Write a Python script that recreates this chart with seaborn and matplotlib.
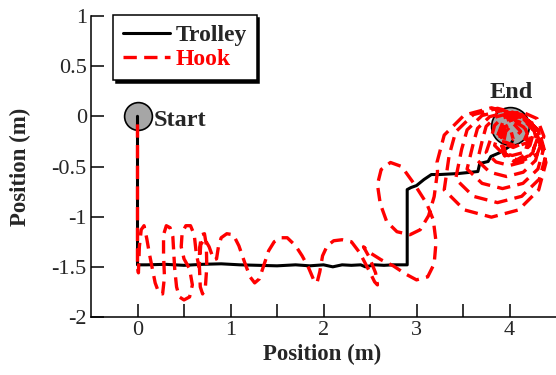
import matplotlib
matplotlib.use("Agg")
import matplotlib.pyplot as plt
import seaborn as sns
import pandas as pd

# ---------------- data ----------------
trolley_x = [0, 0, 0.02, 0.1, 0.3, 0.5, 0.7, 0.9, 1.1, 1.3, 1.5, 1.7, 1.85, 2.0, 2.1, 2.2,
             2.3, 2.4, 2.45, 2.55, 2.65, 2.75, 2.9, 2.9, 2.94, 3.0, 3.08, 3.16, 3.25, 3.45,
             3.66, 3.68, 3.77, 3.8, 3.9, 3.95, 4.0, 4.03]
trolley_y = [0, -1.48, -1.48, -1.48, -1.475, -1.485, -1.475, -1.47, -1.48, -1.485, -1.49, -1.48,
             -1.49, -1.48, -1.50, -1.48, -1.485, -1.48, -1.50, -1.48, -1.485, -1.48, -1.48, -0.73,
             -0.71, -0.69, -0.63, -0.58, -0.58, -0.57, -0.55, -0.47, -0.45, -0.40, -0.36, -0.33,
             -0.30, -0.25]

# hook: descent and first swings
hook_x_start = [0.0, 0.0, 0.0, 0.0, 0.0, 0.01, 0.02, 0.04, 0.07, 0.10, 0.13, 0.16, 0.19, 0.23,
                0.27, 0.29, 0.28, 0.28, 0.31, 0.35, 0.38, 0.39, 0.40, 0.42, 0.45, 0.50, 0.56,
                0.59, 0.56, 0.50, 0.47, 0.48, 0.52, 0.57, 0.61, 0.63, 0.66]
hook_y_start = [-0.08, -0.4, -0.8, -1.2, -1.5, -1.56, -1.30, -1.13, -1.09, -1.22, -1.38, -1.52,
                -1.66, -1.76, -1.77, -1.60, -1.38, -1.18, -1.09, -1.11, -1.20, -1.36, -1.52,
                -1.70, -1.80, -1.83, -1.80, -1.68, -1.52, -1.42, -1.30, -1.16, -1.09, -1.09,
                -1.18, -1.35, -1.50]

# hook: swings along the straight run and the climb
hook_x_mid = [0.67, 0.69, 0.72, 0.74, 0.745, 0.73, 0.70, 0.675, 0.665, 0.68, 0.72, 0.77, 0.82,
              0.85, 0.87, 0.90, 0.96, 1.03, 1.09, 1.15, 1.21, 1.26, 1.31, 1.36, 1.41, 1.47,
              1.54, 1.61, 1.70, 1.77, 1.84, 1.89, 1.93, 1.96, 1.99, 2.04, 2.11, 2.20, 2.30,
              2.39, 2.48, 2.55, 2.58, 2.56, 2.49, 2.43, 2.50, 2.62, 2.75, 2.88, 3.00, 3.12,
              3.19, 3.21, 3.18, 3.11, 2.98, 2.84, 2.72, 2.62, 2.58, 2.61, 2.68, 2.79, 2.93,
              3.04, 3.13, 3.19, 3.226]
hook_y_mid = [-1.30, -1.18, -1.17, -1.28, -1.50, -1.70, -1.77, -1.70, -1.48, -1.28, -1.22, -1.30,
              -1.43, -1.42, -1.30, -1.21, -1.17, -1.18, -1.29, -1.45, -1.60, -1.66, -1.62,
              -1.48, -1.34, -1.25, -1.21, -1.21, -1.29, -1.39, -1.51, -1.62, -1.66, -1.55,
              -1.39, -1.29, -1.24, -1.23, -1.25, -1.36, -1.52, -1.65, -1.68, -1.56, -1.40,
              -1.30, -1.36, -1.43, -1.49, -1.57, -1.63, -1.60, -1.47, -1.25, -1.03, -0.87,
              -0.68, -0.50, -0.46, -0.53, -0.68, -0.87, -1.05, -1.15, -1.18, -1.13, -0.99,
              -0.80, -0.55]

# hook: settling loops around the end point
hook_x_end = [3.22, 3.298, 3.513, 3.806, 4.099, 4.314, 4.392, 4.314, 4.099, 3.806, 3.513, 3.298,
              3.351, 3.421, 3.611, 3.871, 4.131, 4.321, 4.391, 4.321, 4.131, 3.871, 3.611, 3.421,
              3.485, 3.544, 3.705, 3.925, 4.145, 4.306, 4.365, 4.306, 4.145, 3.925, 3.705, 3.544,
              3.608, 3.656, 3.788, 3.968, 4.148, 4.28, 4.328, 4.28, 4.148, 3.968, 3.788, 3.656,
              3.71, 3.749, 3.855, 4.0, 4.145, 4.251, 4.29, 4.251, 4.145, 4.0, 3.855, 3.749,
              3.81, 3.84, 3.92, 4.03, 4.14, 4.22, 4.25, 4.22, 4.14, 4.03, 3.92, 3.84,
              3.87, 3.943, 4.12, 4.297, 4.37, 4.297, 4.12, 3.943,
              3.9, 3.959, 4.1, 4.241, 4.3, 4.241, 4.1, 3.959,
              3.9, 3.953, 4.08, 4.207, 4.26, 4.207, 4.08, 3.953,
              3.9, 3.944, 4.05, 4.156, 4.2, 4.156, 4.05, 3.944,
              3.89, 3.934, 4.04, 4.146, 4.19, 4.146, 4.04, 3.934,
              3.96, 4.04, 4.12, 4.04, 4.02]
hook_y_end = [-0.46, -0.187, 0.012, 0.085, 0.012, -0.187, -0.46, -0.733, -0.932, -1.005, -0.932,
              -0.733, -0.39, -0.155, 0.017, 0.08, 0.017, -0.155, -0.39, -0.625, -0.797, -0.86,
              -0.797, -0.625, -0.33, -0.135, 0.008, 0.06, 0.008, -0.135, -0.33, -0.525, -0.668,
              -0.72, -0.668, -0.525, -0.28, -0.12, -0.003, 0.04, -0.003, -0.12, -0.28, -0.44,
              -0.557, -0.6, -0.557, -0.44, -0.23, -0.1, -0.005, 0.03, -0.005, -0.1, -0.23,
              -0.36, -0.455, -0.49, -0.455, -0.36, -0.19, -0.09, -0.017, 0.01, -0.017, -0.09,
              -0.19, -0.29, -0.363, -0.39, -0.363, -0.29,
              -0.2, -0.023, 0.05, -0.023, -0.2, -0.377, -0.45, -0.377,
              -0.22, -0.064, 0.0, -0.064, -0.22, -0.376, -0.44, -0.376,
              -0.15, -0.044, 0.0, -0.044, -0.15, -0.256, -0.3, -0.256,
              -0.25, -0.109, -0.05, -0.109, -0.25, -0.391, -0.45, -0.391,
              -0.17, -0.071, -0.03, -0.071, -0.17, -0.269, -0.31, -0.269,
              -0.15, -0.07, -0.15, -0.23, -0.16]

start_pt = (0.0, 0.0)
end_pt = (4.0, -0.10)

x_ticks = [0, 1, 2, 3, 4]
x_minor = [0.5, 1.5, 2.5, 3.5]
y_ticks = [-2, -1.5, -1, -0.5, 0, 0.5, 1]
y_ticklabels = ["-2", "-1.5", "-1", "-0.5", "0", "0.5", "1"]

# ---------------- style ----------------
sns.set_style("ticks")
plt.rcParams["font.family"] = ["Liberation Serif", "DejaVu Serif"]
plt.rcParams["axes.unicode_minus"] = False

fig = plt.figure(figsize=(5.56, 3.75), dpi=100)
ax = fig.add_axes([91 / 556, 58 / 375, 465 / 556, 301 / 375])

trolley = pd.DataFrame({"x": trolley_x, "y": trolley_y})
hook = pd.DataFrame({"x": hook_x_start + hook_x_mid + hook_x_end,
                     "y": hook_y_start + hook_y_mid + hook_y_end})

# markers
sns.scatterplot(x=[start_pt[0]], y=[start_pt[1]], s=400, color="#a6a6a6",
                edgecolor="black", linewidth=1.2, zorder=1, ax=ax, legend=False)
sns.scatterplot(x=[end_pt[0]], y=[end_pt[1]], s=740, color="#a6a6a6",
                edgecolor="black", linewidth=1.2, zorder=1, ax=ax, legend=False)

sns.lineplot(data=trolley, x="x", y="y", sort=False, estimator=None, color="black",
             lw=2.2, ax=ax, label="Trolley", zorder=3)
sns.lineplot(data=hook, x="x", y="y", sort=False, estimator=None, color="#ff0000",
             lw=2.4, ax=ax, label="Hook", zorder=4)
ax.lines[-1].set_dashes([4, 2.2])

ax.text(0.172, -0.10, "Start", fontsize=17.5, fontweight="bold", ha="left", va="baseline")
ax.text(4.02, 0.18, "End", fontsize=17.5, fontweight="bold", ha="center", va="baseline")

ax.set_xlim(-0.5, 4.5)
ax.set_ylim(-2, 1)
ax.set_xticks(x_ticks)
ax.set_xticks(x_minor, minor=True)
ax.set_yticks(y_ticks)
ax.set_yticklabels(y_ticklabels)
ax.tick_params(axis="both", which="both", direction="in", length=9.5, width=1.1,
               labelsize=16, color="black")
ax.tick_params(axis="x", pad=3)
ax.tick_params(axis="y", pad=3)

sns.despine(ax=ax)
for s in ("left", "bottom"):
    ax.spines[s].set_linewidth(1.1)
    ax.spines[s].set_color("black")

ax.set_xlabel("Position (m)", fontsize=16.5, fontweight="bold")
ax.set_ylabel("Position (m)", fontsize=16.5, fontweight="bold")
ax.xaxis.set_label_coords(0.497, -0.09)
ax.yaxis.set_label_coords(-0.128, 0.5)

leg = ax.legend(loc="upper left", bbox_to_anchor=(0.047, 1.003), borderaxespad=0,
                prop={"weight": "bold", "size": 17}, frameon=True, fancybox=False,
                shadow={"color": "black", "alpha": 1}, framealpha=1, edgecolor="black",
                handlelength=2.0, handletextpad=0.25, labelspacing=0.1, borderpad=0.41)
leg.get_frame().set_linewidth(1.1)
leg.get_texts()[1].set_color("#ff0000")

fig.savefig("out.png", dpi=100)
